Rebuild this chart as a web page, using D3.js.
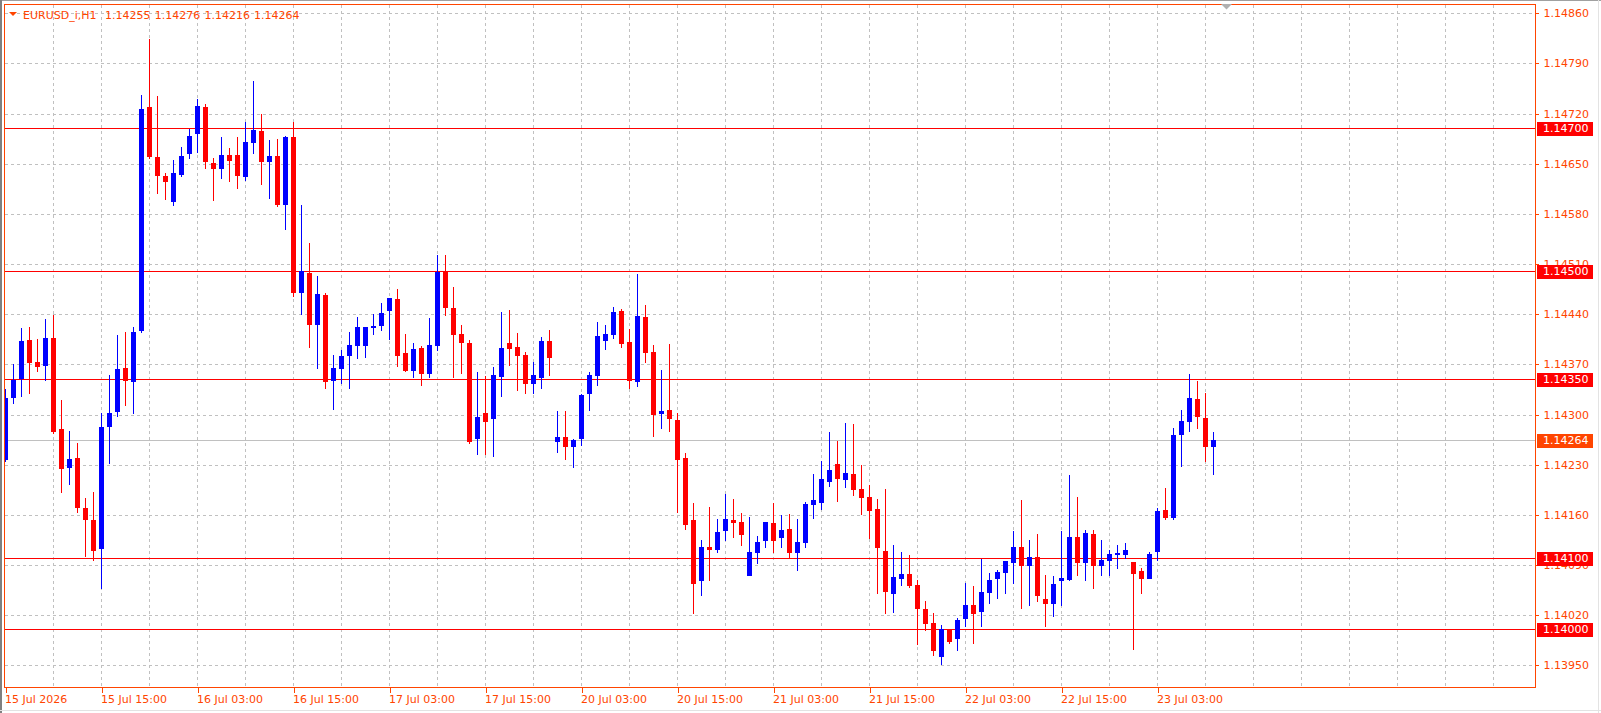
<!DOCTYPE html>
<html>
<head>
<meta charset="utf-8">
<script src="https://cdn.jsdelivr.net/npm/d3@7"></script>
<style>
  html, body { margin: 0; padding: 0; background: #ffffff; }
  svg { display: block; }
</style>
</head>
<body>
<svg id="chart" width="1601" height="713"></svg>
<script>
// ---------------- DATA ----------------
const symbolTitle = "EURUSD_i,H1";
const lastOHLC = ["1.14255", "1.14276", "1.14216", "1.14264"];

const opens = [
  1.14237,1.14323,1.14349,1.14404,1.14373,1.14368,1.14407,1.14280,1.14226,1.14240,
  1.14170,1.14153,1.14113,1.14283,1.14303,1.14365,1.14346,1.14416,1.14729,1.14659,
  1.14633,1.14596,1.14635,1.14663,1.14691,1.14729,1.14651,1.14643,1.14662,1.14662,
  1.14632,1.14679,1.14696,1.14653,1.14661,1.14593,1.14687,1.14470,1.14498,1.14425,
  1.14467,1.14347,1.14364,1.14381,1.14396,1.14395,1.14421,1.14424,1.14444,1.14461,
  1.14386,1.14361,1.14393,1.14357,1.14395,1.14499,1.14448,1.14412,1.14400,1.14266,
  1.14302,1.14294,1.14353,1.14400,1.14394,1.14383,1.14342,1.14351,1.14403,1.14262,
  1.14269,1.14255,1.14266,1.14328,1.14354,1.14403,1.14411,1.14444,1.14401,1.14346,
  1.14436,1.14387,1.14301,1.14306,1.14292,1.14239,1.14153,1.14067,1.14115,1.14111,
  1.14137,1.14153,1.14150,1.14074,1.14107,1.14123,1.14149,1.14127,1.14140,1.14107,
  1.14120,1.14174,1.14177,1.14206,1.14231,1.14209,1.14217,1.14196,1.14185,1.14168,
  1.14110,1.14050,1.14071,1.14077,1.14062,1.14029,1.14009,1.13962,1.14000,1.13987,
  1.14015,1.14034,1.14025,1.14051,1.14070,1.14079,1.14093,1.14115,1.14089,1.14101,
  1.14043,1.14036,1.14068,1.14069,1.14129,1.14093,1.14133,1.14089,1.14096,1.14104,
  1.14104,1.14094,1.14082,1.14071,1.14108,1.14167,1.14155,1.14272,1.14290,1.14322,
  1.14295,1.14255
];
const highs = [
  1.14336,1.14370,1.14421,1.14422,1.14406,1.14433,1.14439,1.14320,1.14277,1.14260,
  1.14184,1.14192,1.14302,1.14355,1.14411,1.14415,1.14422,1.14746,1.14824,1.14744,
  1.14637,1.14655,1.14673,1.14699,1.14740,1.14733,1.14658,1.14687,1.14672,1.14687,
  1.14708,1.14766,1.14719,1.14683,1.14685,1.14689,1.14708,1.14592,1.14539,1.14493,
  1.14470,1.14383,1.14390,1.14415,1.14436,1.14422,1.14440,1.14456,1.14463,1.14475,
  1.14412,1.14400,1.14395,1.14435,1.14522,1.14522,1.14478,1.14425,1.14404,1.14360,
  1.14354,1.14367,1.14443,1.14446,1.14414,1.14387,1.14373,1.14408,1.14418,1.14305,
  1.14305,1.14266,1.14329,1.14359,1.14429,1.14425,1.14450,1.14447,1.14419,1.14496,
  1.14453,1.14397,1.14362,1.14398,1.14302,1.14247,1.14177,1.14125,1.14171,1.14154,
  1.14189,1.14182,1.14163,1.14157,1.14130,1.14150,1.14177,1.14160,1.14161,1.14154,
  1.14178,1.14217,1.14235,1.14276,1.14263,1.14288,1.14287,1.14230,1.14202,1.14182,
  1.14196,1.14118,1.14108,1.14104,1.14069,1.14040,1.14023,1.14006,1.14000,1.14016,
  1.14065,1.14061,1.14098,1.14079,1.14083,1.14096,1.14137,1.14181,1.14125,1.14133,
  1.14076,1.14075,1.14137,1.14216,1.14185,1.14139,1.14139,1.14125,1.14111,1.14118,
  1.14121,1.14094,1.14086,1.14108,1.14170,1.14198,1.14281,1.14306,1.14357,1.14347,
  1.14330,1.14276
];
const lows = [
  1.14234,1.14315,1.14324,1.14329,1.14360,1.14347,1.14273,1.14191,1.14202,1.14162,
  1.14101,1.14096,1.14056,1.14231,1.14297,1.14312,1.14301,1.14414,1.14657,1.14608,
  1.14599,1.14591,1.14631,1.14656,1.14665,1.14643,1.14598,1.14629,1.14624,1.14615,
  1.14626,1.14663,1.14621,1.14601,1.14589,1.14558,1.14464,1.14439,1.14393,1.14363,
  1.14335,1.14307,1.14342,1.14336,1.14378,1.14379,1.14411,1.14417,1.14404,1.14367,
  1.14359,1.14351,1.14340,1.14351,1.14389,1.14438,1.14351,1.14357,1.14259,1.14244,
  1.14244,1.14241,1.14325,1.14368,1.14333,1.14328,1.14329,1.14335,1.14354,1.14247,
  1.14237,1.14226,1.14256,1.14305,1.14340,1.14390,1.14406,1.14393,1.14336,1.14339,
  1.14372,1.14269,1.14280,1.14275,1.14163,1.14139,1.14022,1.14047,1.14068,1.14107,
  1.14124,1.14127,1.14117,1.14074,1.14092,1.14114,1.14107,1.14114,1.14099,1.14082,
  1.14114,1.14154,1.14167,1.14199,1.14178,1.14198,1.14186,1.14160,1.14126,1.14049,
  1.14021,1.14023,1.14061,1.14058,1.13979,1.13998,1.13963,1.13951,1.13980,1.13970,
  1.14003,1.13980,1.14004,1.14036,1.14042,1.14049,1.14064,1.14028,1.14033,1.14039,
  1.14004,1.14018,1.14033,1.14068,1.14074,1.14068,1.14056,1.14074,1.14074,1.14085,
  1.14099,1.13972,1.14050,1.14071,1.14096,1.14153,1.14153,1.14227,1.14276,1.14280,
  1.14234,1.14216
];
const closes = [
  1.14323,1.14348,1.14402,1.14372,1.14367,1.14407,1.14275,1.14224,1.14238,1.14170,
  1.14153,1.14110,1.14282,1.14302,1.14364,1.14347,1.14415,1.14727,1.14659,1.14633,
  1.14624,1.14637,1.14661,1.14689,1.14731,1.14653,1.14642,1.14662,1.14654,1.14633,
  1.14680,1.14697,1.14653,1.14661,1.14593,1.14687,1.14470,1.14500,1.14425,1.14468,
  1.14346,1.14365,1.14382,1.14397,1.14422,1.14422,1.14424,1.14442,1.14463,1.14382,
  1.14361,1.14392,1.14357,1.14397,1.14499,1.14449,1.14411,1.14400,1.14262,1.14297,
  1.14290,1.14355,1.14393,1.14392,1.14381,1.14342,1.14355,1.14403,1.14379,1.14269,
  1.14254,1.14264,1.14327,1.14355,1.14410,1.14412,1.14443,1.14399,1.14347,1.14438,
  1.14386,1.14300,1.14305,1.14294,1.14237,1.14146,1.14064,1.14115,1.14111,1.14136,
  1.14154,1.14149,1.14132,1.14108,1.14122,1.14150,1.14124,1.14139,1.14107,1.14122,
  1.14175,1.14181,1.14210,1.14223,1.14210,1.14218,1.14195,1.14184,1.14166,1.14114,
  1.14053,1.14073,1.14077,1.14061,1.14029,1.14008,1.13970,1.14001,1.13983,1.14013,
  1.14034,1.14022,1.14052,1.14069,1.14080,1.14096,1.14115,1.14088,1.14101,1.14047,
  1.14035,1.14063,1.14072,1.14129,1.14093,1.14135,1.14089,1.14097,1.14105,1.14107,
  1.14111,1.14078,1.14071,1.14105,1.14165,1.14156,1.14271,1.14291,1.14323,1.14297,
  1.14254,1.14264
];

const priceTicks = [1.13950,1.14020,1.14090,1.14160,1.14230,1.14300,1.14370,
                    1.14440,1.14510,1.14580,1.14650,1.14720,1.14790,1.14860];
const levelLines = [1.14700, 1.14500, 1.14350, 1.14100, 1.14000];
const bidPrice = 1.14264;

const timeTickBars = [0,12,24,36,48,60,72,84,96,108,120,132,144];
const timeTickLabels = ["15 Jul 2026","15 Jul 15:00","16 Jul 03:00","16 Jul 15:00",
  "17 Jul 03:00","17 Jul 15:00","20 Jul 03:00","20 Jul 15:00","21 Jul 03:00",
  "21 Jul 15:00","22 Jul 03:00","22 Jul 15:00","23 Jul 03:00"];

// ---------------- LAYOUT ----------------
const FG = "#FF4500";
const plot = { left: 4, top: 4, right: 1535, bottom: 687 };
const svg = d3.select("#chart");

const x = d3.scaleLinear().domain([0, 191]).range([5.5, 5.5 + 8 * 191]);
const y = d3.scaleLinear().domain([1.13950, 1.14860]).range([665.3, 13.3]);

// window borders
svg.append("rect").attr("x", 0).attr("y", 0).attr("width", 1601).attr("height", 713).attr("fill", "#ffffff");
svg.append("rect").attr("x", 0).attr("y", 0).attr("width", 1601).attr("height", 1).attr("fill", "#a0a0a0");
svg.append("rect").attr("x", 0).attr("y", 0).attr("width", 2).attr("height", 713).attr("fill", "#808080");
svg.append("rect").attr("x", 1598).attr("y", 0).attr("width", 1).attr("height", 713).attr("fill", "#e3e3e3");
svg.append("rect").attr("x", 0).attr("y", 710).attr("width", 1601).attr("height", 1).attr("fill", "#e3e3e3");

const defs = svg.append("defs");
defs.append("clipPath").attr("id", "plotClip").append("rect")
  .attr("x", plot.left + 1).attr("y", plot.top + 1)
  .attr("width", plot.right - plot.left - 1).attr("height", plot.bottom - plot.top - 1);

// grid
const grid = svg.append("g").attr("shape-rendering", "crispEdges");
grid.selectAll("line.hg").data(priceTicks).join("line")
  .attr("x1", plot.left + 1).attr("x2", plot.right)
  .attr("y1", d => Math.round(y(d)) + 0.5).attr("y2", d => Math.round(y(d)) + 0.5)
  .attr("stroke", "#c0c0c0").attr("stroke-dasharray", "3,3");
const vGrid = d3.range(6, 192, 6);
grid.selectAll("line.vg").data(vGrid).join("line")
  .attr("x1", d => x(d)).attr("x2", d => x(d))
  .attr("y1", plot.top + 1).attr("y2", plot.bottom)
  .attr("stroke", "#c0c0c0").attr("stroke-dasharray", "3,3");

// level lines
const lv = svg.append("g").attr("shape-rendering", "crispEdges");
lv.selectAll("line").data(levelLines).join("line")
  .attr("x1", plot.left + 1).attr("x2", plot.right)
  .attr("y1", d => Math.round(y(d)) + 0.5).attr("y2", d => Math.round(y(d)) + 0.5)
  .attr("stroke", "#ff0000");
lv.append("line")
  .attr("x1", plot.left + 1).attr("x2", plot.right)
  .attr("y1", Math.round(y(bidPrice)) + 0.5).attr("y2", Math.round(y(bidPrice)) + 0.5)
  .attr("stroke", "#c0c0c0");

// candles
const data = opens.map((o, i) => ({ i, o, h: highs[i], l: lows[i], c: closes[i] }));
const cg = svg.append("g").attr("clip-path", "url(#plotClip)").attr("shape-rendering", "crispEdges");
const col = d => d.c >= d.o ? "#0000ff" : "#ff0000";
cg.selectAll("line.wick").data(data).join("line")
  .attr("x1", d => x(d.i)).attr("x2", d => x(d.i))
  .attr("y1", d => y(d.h)).attr("y2", d => y(d.l))
  .attr("stroke", col).attr("stroke-width", 1);
cg.selectAll("rect.body").data(data).join("rect")
  .attr("x", d => x(d.i) - 2.5).attr("width", 5)
  .attr("y", d => y(Math.max(d.o, d.c)))
  .attr("height", d => Math.max(1, Math.abs(y(d.o) - y(d.c))))
  .attr("fill", col);

// frame
svg.append("rect")
  .attr("x", plot.left + 0.5).attr("y", plot.top + 0.5)
  .attr("width", plot.right - plot.left).attr("height", plot.bottom - plot.top)
  .attr("fill", "none").attr("stroke", FG).attr("shape-rendering", "crispEdges");

// y axis
const yAxis = d3.axisRight(y).tickValues(priceTicks).tickFormat(d3.format(".5f"))
  .tickSize(3).tickPadding(5);
const yg = svg.append("g").attr("transform", `translate(${plot.right + 0.5},0)`).call(yAxis);
yg.select(".domain").remove();
yg.selectAll(".tick line").attr("stroke", FG).attr("shape-rendering", "crispEdges");
yg.selectAll(".tick text").attr("fill", FG)
  .style("font-family", "'DejaVu Sans', sans-serif").style("font-size", "11px");

// x axis
const xAxis = d3.axisBottom(x).tickValues(timeTickBars)
  .tickFormat((d, k) => timeTickLabels[k]).tickSize(5).tickPadding(3);
const xg = svg.append("g").attr("transform", `translate(0,${plot.bottom + 0.5})`).call(xAxis);
xg.select(".domain").remove();
xg.selectAll(".tick line").attr("stroke", FG).attr("shape-rendering", "crispEdges");
xg.selectAll(".tick text").attr("fill", FG)
  .attr("text-anchor", "start").attr("x", -1).attr("y", 15.5).attr("dy", 0)
  .style("font-family", "'DejaVu Sans', sans-serif").style("font-size", "11px");

// level labels
const labels = levelLines.map(v => ({ v, fill: "#ff0000" }))
  .concat([{ v: bidPrice, fill: FG }]);
const lg = svg.append("g");
lg.selectAll("rect").data(labels).join("rect")
  .attr("x", 1537).attr("width", 56)
  .attr("y", d => Math.round(y(d.v)) - 6).attr("height", 14)
  .attr("fill", d => d.fill);
lg.selectAll("text").data(labels).join("text")
  .attr("x", 1543).attr("y", d => y(d.v)).attr("dy", "0.35em")
  .attr("fill", "#ffffff")
  .style("font-family", "'DejaVu Sans', sans-serif").style("font-size", "11px")
  .text(d => d3.format(".5f")(d.v));

// title
svg.append("path").attr("d", "M9,12 L17,12 L13,16 Z").attr("fill", FG);
const tg = svg.append("g").style("font-family", "'DejaVu Sans', sans-serif")
  .style("font-size", "11px").attr("fill", FG);
tg.append("text").attr("x", 23).attr("y", 19).text(symbolTitle);
tg.selectAll("text.p").data(lastOHLC).join("text")
  .attr("class", "p").attr("x", (d, k) => 105 + k * 49.7).attr("y", 19).text(d => d);

// small shift marker
svg.append("path").attr("d", "M1221,4 L1232,4 L1226.5,9.5 Z").attr("fill", "#b0b0b0");
</script>
</body>
</html>
